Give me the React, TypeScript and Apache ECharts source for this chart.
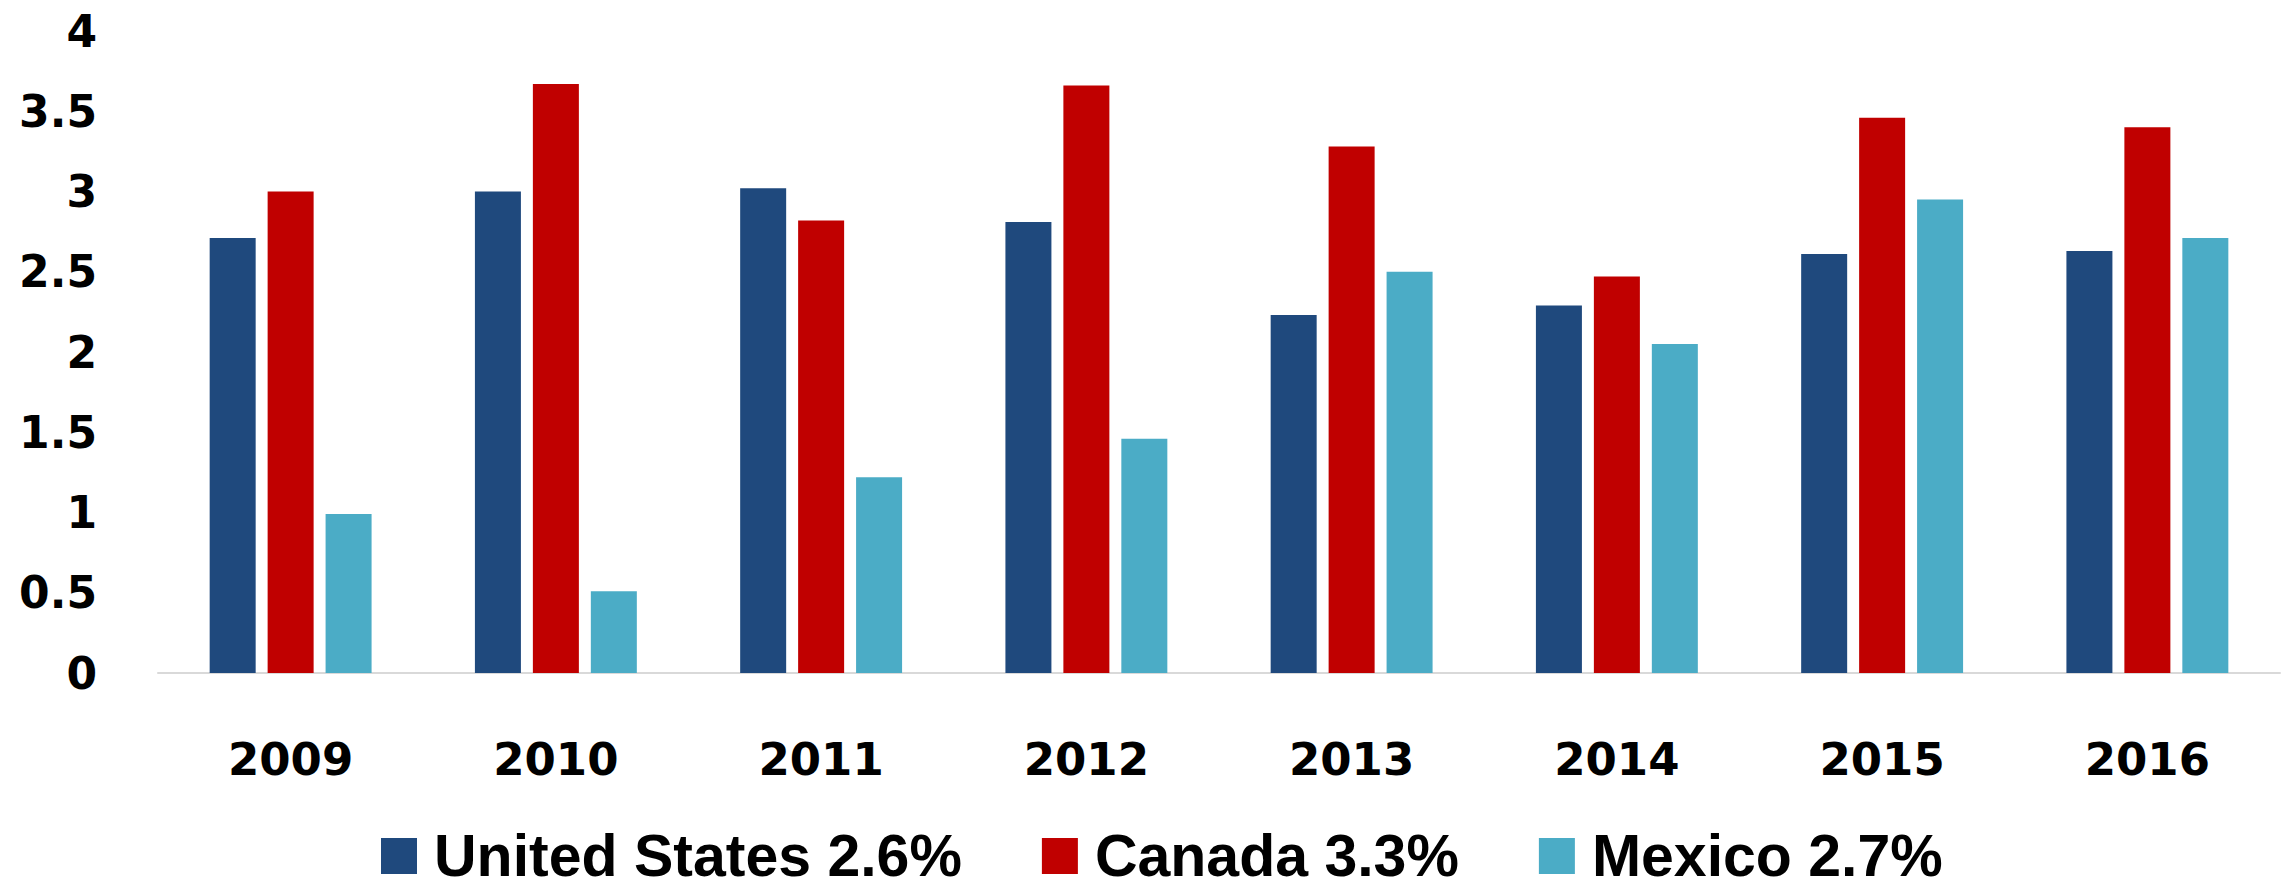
import React, { useEffect, useRef } from "react";
import * as echarts from "echarts";

const categories = ["2009", "2010", "2011", "2012", "2013", "2014", "2015", "2016"];
const seriesNames = ["United States 2.6%", "Canada 3.3%", "Mexico 2.7%"];
const unitedStates = [2.71, 3.0, 3.02, 2.81, 2.23, 2.29, 2.61, 2.63];
const canada = [3.0, 3.67, 2.82, 3.66, 3.28, 2.47, 3.46, 3.4];
const mexico = [0.99, 0.51, 1.22, 1.46, 2.5, 2.05, 2.95, 2.71];
const colors = ["#1F497D", "#C00000", "#4BACC6"];

export default function App() {
  const ref = useRef<HTMLDivElement>(null);
  useEffect(() => {
    document.body.style.margin = "0";
    const chart = echarts.init(ref.current!, null, { renderer: "svg" });
    const values = [unitedStates, canada, mexico];
    chart.setOption({
      animation: false,
      backgroundColor: "#ffffff",
      grid: { left: 158, right: 3, top: 31, bottom: 219, containLabel: false },
      legend: {
        left: 376,
        top: 820,
        itemWidth: 36,
        itemHeight: 36,
        itemGap: 80,
        icon: "rect",
        data: seriesNames,
        textStyle: {
          fontFamily: "'Liberation Sans Narrow', 'Liberation Sans', sans-serif",
          fontWeight: "bold",
          fontSize: 59,
          color: "#000000",
          lineHeight: 62,
          padding: [0, 0, 0, 12],
        },
      },
      xAxis: {
        type: "category",
        data: categories,
        axisLine: { show: true, lineStyle: { color: "#d9d9d9", width: 2 } },
        axisTick: { show: false },
        axisLabel: {
          margin: 64,
          fontFamily: "'DejaVu Sans', sans-serif",
          fontWeight: "bold",
          fontSize: 45,
          color: "#000000",
        },
      },
      yAxis: {
        type: "value",
        min: 0,
        max: 4,
        interval: 0.5,
        axisLine: { show: false },
        axisTick: { show: false },
        splitLine: { show: false },
        axisLabel: {
          margin: 61,
          fontFamily: "'DejaVu Sans', sans-serif",
          fontWeight: "bold",
          fontSize: 44,
          color: "#000000",
        },
      },
      series: seriesNames.map((name, i) => ({
        name,
        type: "bar",
        data: values[i],
        barWidth: 46,
        barGap: "26%",
        itemStyle: { color: colors[i] },
      })),
    });
    return () => chart.dispose();
  }, []);
  return <div ref={ref} style={{ width: 2283, height: 892 }} />;
}
